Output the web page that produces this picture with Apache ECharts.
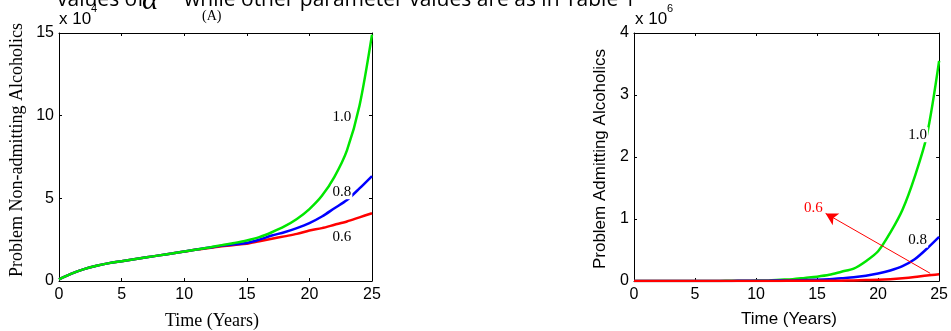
<!DOCTYPE html>
<html>
<head>
<meta charset="utf-8">
<script src="https://cdn.jsdelivr.net/npm/echarts@6/dist/echarts.min.js"></script>
<style>
  html, body { margin: 0; padding: 0; background: #fff; }
  #chart { width: 951px; height: 331px; }
</style>
</head>
<body>
<div id="chart"></div>
<script>
// time in years
const years = [0,1,2,3,4,5,6,7,8,9,10,11,12,13,14,15,16,17,18,19,20,21,22,23,24,25];

// (A) problem non-admitting alcoholics, x 10^4
const nonAdmit10 = [0.1,0.45,0.72,0.92,1.08,1.2,1.32,1.43,1.55,1.66,1.78,1.9,2.03,2.17,2.3,2.45,2.65,2.95,3.3,3.75,4.35,5.15,6.3,7.9,10.6,14.9];
const nonAdmit08 = [0.1,0.45,0.72,0.92,1.08,1.2,1.32,1.43,1.55,1.66,1.78,1.9,2.02,2.14,2.22,2.3,2.5,2.75,2.95,3.2,3.5,3.9,4.4,4.9,5.6,6.35];
const nonAdmit06 = [0.1,0.45,0.72,0.92,1.08,1.2,1.32,1.43,1.55,1.66,1.78,1.9,2.0,2.1,2.18,2.25,2.4,2.55,2.7,2.85,3.05,3.2,3.4,3.6,3.85,4.1];

// (B) problem admitting alcoholics, x 10^6
const admit10 = [0.002,0.002,0.002,0.002,0.002,0.002,0.002,0.002,0.003,0.005,0.007,0.01,0.02,0.03,0.05,0.07,0.1,0.15,0.2,0.32,0.48,0.78,1.15,1.68,2.35,3.55];
const admit08 = [0.002,0.002,0.002,0.002,0.002,0.002,0.002,0.002,0.002,0.003,0.004,0.006,0.008,0.01,0.015,0.02,0.03,0.045,0.06,0.085,0.12,0.17,0.24,0.35,0.52,0.71];
const admit06 = [0.002,0.002,0.002,0.002,0.002,0.002,0.002,0.002,0.002,0.002,0.002,0.002,0.002,0.003,0.003,0.004,0.004,0.005,0.01,0.015,0.02,0.03,0.045,0.065,0.09,0.11];

const GREEN = '#00e600', BLUE = '#0000ff', RED = '#ff0000';
const pair = arr => years.map((t, i) => [t, arr[i]]);

const chart = echarts.init(document.getElementById('chart'));

const tickLabel = { color: '#000', fontFamily: 'Liberation Sans, Arial', fontSize: 16 };
function xAx(grid, withLabels, pos) {
  return {
    type: 'value', gridIndex: grid, min: 0, max: 25, interval: 5, position: pos,
    axisLine: { show: true, onZero: false, lineStyle: { color: '#000', width: 1 } },
    axisTick: { show: true, inside: true, length: 3, lineStyle: { color: '#000' } },
    axisLabel: Object.assign({ show: withLabels, margin: 6 }, tickLabel),
    splitLine: { show: false }
  };
}
function yAx(grid, max, interval, withLabels, pos) {
  return {
    type: 'value', gridIndex: grid, min: 0, max: max, interval: interval, position: pos,
    axisLine: { show: true, onZero: false, lineStyle: { color: '#000', width: 1 } },
    axisTick: { show: true, inside: true, length: 3, lineStyle: { color: '#000' } },
    axisLabel: Object.assign({ show: withLabels, margin: 5 }, tickLabel),
    splitLine: { show: false }
  };
}

const tagSerif = { fontFamily: 'Liberation Serif, Times New Roman', fontSize: 15, color: '#000',
  backgroundColor: '#fff', padding: [0, 1] };
function tag(text, coord, color) {
  return {
    coord: coord, symbol: 'circle', symbolSize: 0,
    label: Object.assign({}, tagSerif, { show: true, position: 'inside', formatter: text, color: color || '#000' })
  };
}
function line(name, data, color, xi, yi, mp, ml) {
  const s = {
    name: name, type: 'line', data: pair(data), xAxisIndex: xi, yAxisIndex: yi,
    showSymbol: false, smooth: 0.3,
    lineStyle: { color: color, width: 2.5 }, itemStyle: { color: color },
    animation: false, z: 2
  };
  if (mp) s.markPoint = { data: mp, z: 5, animation: false };
  if (ml) s.markLine = ml;
  return s;
}

chart.setOption({
  animation: false,
  grid: [
    { left: 59, right: 579, top: 33, bottom: 50 },
    { left: 634, right: 5, top: 33, bottom: 50 }
  ],
  xAxis: [xAx(0, true, 'bottom'), xAx(0, false, 'top'), xAx(1, true, 'bottom'), xAx(1, false, 'top')],
  yAxis: [yAx(0, 15, 5, true, 'left'), yAx(0, 15, 5, false, 'right'), yAx(1, 4, 1, true, 'left'), yAx(1, 4, 1, false, 'right')],
  series: [
    line('0.6', nonAdmit06, RED, 0, 0, [tag('0.6', [22.6, 2.67])]),
    line('0.8', nonAdmit08, BLUE, 0, 0, [tag('0.8', [22.6, 5.4])]),
    line('1.0', nonAdmit10, GREEN, 0, 0, [tag('1.0', [22.6, 9.93])]),
    line('1.0', admit10, GREEN, 2, 2, [tag('1.0', [23.25, 2.36])]),
    line('0.8', admit08, BLUE, 2, 2, [tag('0.8', [23.25, 0.66])]),
    line('0.6', admit06, RED, 2, 2, [tag('0.6', [14.7, 1.18], RED)], {
      silent: true, animation: false, symbol: ['none', 'arrow'], symbolSize: [10, 12],
      lineStyle: { color: RED, width: 1, type: 'solid' }, label: { show: false },
      data: [[{ coord: [24.27, 0.124] }, { coord: [15.7, 1.09] }]]
    })
  ],
  graphic: [
    { type: 'text', left: 57, top: -10, style: { text: 'values of', font: '21px "Open Sans", sans-serif', fill: '#000' } },
    { type: 'text', left: 142, top: -15, style: { text: 'α', font: 'italic 31px "Liberation Serif", serif', fill: '#000' } },
    { type: 'text', left: 184, top: -10, style: { text: 'while other parameter values are as in Table 1', font: '21px "Open Sans", sans-serif', fill: '#000' } },
    { type: 'text', left: 202, top: 9, style: { text: '(A)', font: '14px "Liberation Serif", serif', fill: '#000' } },
    { type: 'text', left: 59, top: 11, style: { text: 'x 10', font: '17px "Liberation Sans", Arial', fill: '#000' } },
    { type: 'text', left: 91, top: 3, z: 10, style: { text: '4', font: '11px "Liberation Sans", Arial', fill: '#000' } },
    { type: 'text', left: 635, top: 11, style: { text: 'x 10', font: '17px "Liberation Sans", Arial', fill: '#000' } },
    { type: 'text', left: 667, top: 3, style: { text: '6', font: '11px "Liberation Sans", Arial', fill: '#000' } },
    { type: 'text', x: 17, y: 150, rotation: Math.PI / 2, style: { text: 'Problem Non-admitting Alcoholics', font: '18px "Liberation Serif", serif', fill: '#000', align: 'center', verticalAlign: 'middle' } },
    { type: 'text', x: 600, y: 159, rotation: Math.PI / 2, style: { text: 'Problem Admitting Alcoholics', font: '17px "Liberation Sans", Arial', fill: '#000', align: 'center', verticalAlign: 'middle' } },
    { type: 'text', x: 212, y: 321, style: { text: 'Time (Years)', font: '18px "Liberation Serif", serif', fill: '#000', align: 'center', verticalAlign: 'middle' } },
    { type: 'text', x: 789, y: 319, style: { text: 'Time (Years)', font: '17px "Liberation Sans", Arial', fill: '#000', align: 'center', verticalAlign: 'middle' } }
  ]
});
</script>
</body>
</html>
